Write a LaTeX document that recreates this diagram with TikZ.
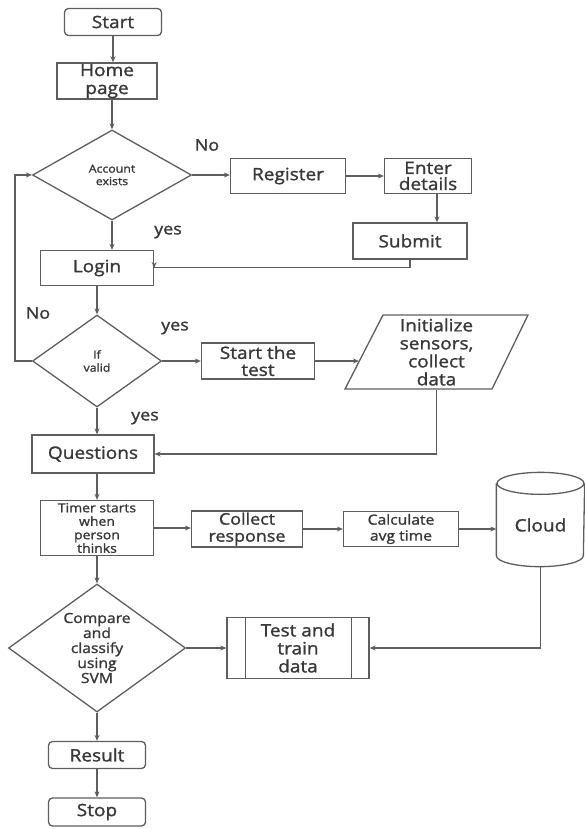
\documentclass[tikz,border=0pt]{standalone}
\usepackage{fontspec}
\setmainfont{Open Sans}[FakeStretch=1.12,FakeBold=1.4]
\usetikzlibrary{shapes.geometric,arrows.meta}
\definecolor{ln}{HTML}{5E5E5E}
\definecolor{tx}{HTML}{383838}
\newcommand\fz[2]{\fontsize{#1}{#2}\selectfont}
\begin{document}
\begin{tikzpicture}[x=1pt,y=-1pt,
  line/.style={draw=ln,line width=1.3pt},
  arr/.style={line,-{Stealth[length=6pt,width=5pt]}},
  box/.style={line,rectangle,align=center,text=tx,inner sep=1pt,font=\fz{17}{18}},
  rbox/.style={box,rounded corners=4pt},
  dia/.style={line,diamond,align=center,text=tx,inner sep=0pt},
  lbl/.style={text=tx,font=\fz{16}{18},inner sep=0pt}]
\useasboundingbox (0,0) rectangle (585,829);
% nodes
\node[rbox,minimum width=97,minimum height=27] (start) at (113,22) {Start};
\node[box,minimum width=100,minimum height=36] (home) at (107,81) {Home\\page};
\node[dia,minimum width=159,minimum height=90,aspect=1.7,font=\fz{11}{12.5}] (account) at (112,175) {Account\\exists};
\node[box,minimum width=115,minimum height=35] (register) at (288,176) {Register};
\node[box,minimum width=87,minimum height=35,font=\fz{17}{16}] (enter) at (428,176) {Enter\\details};
\node[box,minimum width=114,minimum height=36] (submit) at (410,241) {Submit};
\node[box,minimum width=113,minimum height=35] (login) at (97,268) {Login};
\node[dia,minimum width=129,minimum height=92,aspect=1.4,font=\fz{11}{13}] (valid) at (97,361) {If\\valid};
\node[box,minimum width=113,minimum height=36,font=\fz{17}{17}] (starttest) at (258,361) {Start the\\test};
\node[box,draw=none,minimum width=145,minimum height=74] (init) at (436.5,352) {Initialize\\sensors,\\collect\\data};
\draw[line] (383,315) -- (528,315) -- (492,389) -- (345,389) -- cycle;
\coordinate (initin) at (359,361);
\node[box,minimum width=122,minimum height=38] (questions) at (93,454) {Questions};
\node[box,minimum width=113,minimum height=55,inner ysep=0pt,font=\fz{12.5}{13.5}] (timer) at (97,528) {Timer starts\\when\\person\\thinks};
\node[box,minimum width=111,minimum height=36,font=\fz{16}{17}] (collect) at (247,529) {Collect\\response};
\node[box,minimum width=115,minimum height=35,font=\fz{14}{16}] (calc) at (401,529) {Calculate\\avg time};
\node[box,draw=none,minimum width=87,minimum height=82] (cloud) at (540.5,525) {Cloud};
\draw[line] (cloud.north west) -- ([yshift=11pt]cloud.south west)
  arc[start angle=180,end angle=360,x radius=43.5pt,y radius=11pt] -- (cloud.north east);
\draw[line] (cloud.north) ellipse[x radius=43.5pt,y radius=11pt];
\node[dia,minimum width=177,minimum height=128,aspect=1.38,font=\fz{14}{15}] (compare) at (97,648) {Compare\\and\\classify\\using\\SVM};
\node[box,minimum width=142,minimum height=61] (tt) at (298,648) {Test and\\train\\data};
\draw[line] ([xshift=19pt]tt.north west) -- ([xshift=19pt]tt.south west);
\draw[line] ([xshift=-18pt]tt.north east) -- ([xshift=-18pt]tt.south east);
\node[rbox,minimum width=97,minimum height=27] (result) at (97,755) {Result};
\node[rbox,minimum width=97,minimum height=28] (stop) at (97,812) {Stop};
% labels
\node[lbl] (lno1) at (207,145) {No};
\node[lbl] (lyes1) at (168,232) {yes};
\node[lbl] (lno2) at (38,313) {No};
\node[lbl] (lyes2) at (175,328) {yes};
\node[lbl] (lyes3) at (145,418) {yes};
\coordinate (loopx) at (15,0);
% connectors
\draw[arr] (start.south) -- (start.south |- home.north);
\draw[arr] (account.north |- home.south) -- (account.north);
\draw[arr] (account.east) -- (register.west |- account.east);
\draw[arr] (register.east) -- (enter.west |- register.east);
\draw[arr] ([xshift=9pt]enter.south) -- ([xshift=9pt]enter.south |- submit.north);
\draw[arr] (submit.south) |- ([yshift=-8pt]login.north east |- submit.south) -- (login.east);
\draw[arr] (account.south) -- (account.south |- login.north);
\draw[arr] (login.south) -- (valid.north);
\draw[arr] (valid.west) -- (valid.west -| loopx) |- (account.west);
\draw[arr] (valid.east) -- (starttest.west);
\draw[arr] (starttest.east) -- (initin);
\draw[arr] (init.south) |- (questions.east);
\draw[arr] (valid.south) -- (valid.south |- questions.north);
\draw[arr] (questions.south -| timer.north) -- (timer.north);
\draw[arr] (timer.east) -- (collect.west |- timer.east);
\draw[arr] (collect.east) -- (calc.west |- collect.east);
\draw[arr] (calc.east) -- (cloud.west |- calc.east);
\draw[arr] (cloud.south) |- (tt.east);
\draw[arr] (timer.south) -- (compare.north);
\draw[arr] (compare.east) -- (tt.west);
\draw[arr] (compare.south) -- (result.north);
\draw[arr] (result.south) -- (stop.north);
\end{tikzpicture}
\end{document}
